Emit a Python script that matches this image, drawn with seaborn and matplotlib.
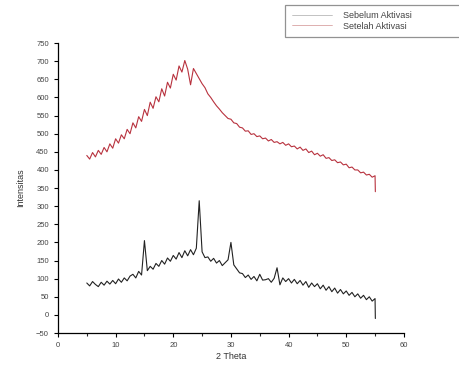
import numpy as np
import pandas as pd
import matplotlib
matplotlib.use("Agg")
import matplotlib.pyplot as plt
import seaborn as sns
from matplotlib.lines import Line2D

# Data
theta = [5.0, 5.5, 6.0, 6.5, 7.0, 7.5, 8.0, 8.5, 9.0, 9.5,
         10.0, 10.5, 11.0, 11.5, 12.0, 12.5, 13.0, 13.5, 14.0, 14.5,
         15.0, 15.5, 16.0, 16.5, 17.0, 17.5, 18.0, 18.5, 19.0, 19.5,
         20.0, 20.5, 21.0, 21.5, 22.0, 22.5, 23.0, 23.5, 24.0, 24.5,
         25.0, 25.5, 26.0, 26.5, 27.0, 27.5, 28.0, 28.5, 29.0, 29.5,
         30.0, 30.5, 31.0, 31.5, 32.0, 32.5, 33.0, 33.5, 34.0, 34.5,
         35.0, 35.5, 36.0, 36.5, 37.0, 37.5, 38.0, 38.5, 39.0, 39.5,
         40.0, 40.5, 41.0, 41.5, 42.0, 42.5, 43.0, 43.5, 44.0, 44.5,
         45.0, 45.5, 46.0, 46.5, 47.0, 47.5, 48.0, 48.5, 49.0, 49.5,
         50.0, 50.5, 51.0, 51.5, 52.0, 52.5, 53.0, 53.5, 54.0, 54.5,
         55.0, 55.05]

sebelum = [88, 80, 92, 84, 78, 90, 82, 93, 85, 95,
           86, 99, 90, 102, 94, 107, 112, 102, 120, 110,
           205, 122, 134, 126, 142, 134, 150, 140, 157, 148,
           164, 154, 172, 158, 177, 163, 180, 166, 184, 315,
           174, 158, 160, 148, 156, 143, 150, 136, 144, 152,
           200, 138, 127, 116, 114, 103, 110, 98, 106, 94,
           112, 96, 97, 100, 90, 101, 130, 83, 102, 92,
           100, 88, 98, 86, 95, 82, 92, 76, 88, 78,
           86, 72, 82, 68, 78, 64, 74, 60, 70, 58,
           66, 54, 62, 50, 58, 46, 54, 42, 50, 38,
           45, -10]

setelah = [440, 430, 448, 436, 454, 443, 462, 450, 472, 460,
           486, 474, 497, 486, 512, 500, 530, 516, 547, 534,
           567, 550, 587, 570, 602, 588, 624, 604, 642, 626,
           664, 648, 687, 670, 702, 678, 635, 680, 666, 652,
           638, 627, 610, 600, 588, 577, 568, 558, 550, 542,
           540, 530, 528, 518, 516, 507, 508, 498, 500, 492,
           494, 486, 488, 480, 484, 476, 478, 472, 476, 468,
           472, 464, 466, 458, 463, 454, 458, 448, 452, 442,
           446, 438, 442, 432, 434, 426, 428, 420, 422, 414,
           416, 406, 408, 400, 400, 392, 394, 386, 388, 380,
           384, 340]

labels = ["Sebelum Aktivasi", "Setelah Aktivasi"]
x_ticks = [0, 10, 20, 30, 40, 50, 60]
y_ticks = list(range(-50, 751, 50))

sns.set_style("white")
plt.rcParams["font.family"] = ["Liberation Sans", "DejaVu Sans"]

fig = plt.figure(figsize=(4.6, 3.75), dpi=100)
ax = fig.add_axes([0.126, 0.112, 0.752, 0.773])

df = pd.DataFrame({
    "theta": theta * 2,
    "intensity": sebelum + setelah,
    "series": [labels[0]] * len(theta) + [labels[1]] * len(theta),
})
sns.lineplot(data=df, x="theta", y="intensity", hue="series",
             palette={labels[0]: "#222222", labels[1]: "#b8323e"},
             linewidth=0.8, sort=False, estimator=None, ax=ax, legend=False)

ax.set_xlim(0, 60)
ax.set_ylim(-50, 750)
ax.set_xticks(x_ticks)
ax.set_yticks(y_ticks)
ax.set_xticks(range(5, 60, 10), minor=True)
ax.tick_params(axis="both", which="major", direction="out", length=3,
               width=0.8, labelsize=5.5, labelcolor="#444444", color="black",
               bottom=True, left=True)
ax.tick_params(axis="x", which="minor", direction="out", length=2,
               width=0.8, bottom=True)
for s in ["top", "right"]:
    ax.spines[s].set_visible(False)
for s in ["left", "bottom"]:
    ax.spines[s].set_color("black")
    ax.spines[s].set_linewidth(0.9)

ax.set_xlabel("2 Theta", fontsize=6.5, color="#333333", labelpad=2)
ax.set_ylabel("Intensitas", fontsize=6.5, color="#333333", labelpad=8)

handles = [Line2D([], [], color="#aaaaaa", lw=0.5),
           Line2D([], [], color="#d09090", lw=0.5)]
leg = fig.legend(handles, labels, loc="upper left",
                 bbox_to_anchor=(0.62, 0.987, 0.42, 0), mode="expand",
                 fontsize=6.5, handlelength=4.5, handletextpad=1.2,
                 frameon=True, fancybox=False, borderpad=0.7,
                 labelspacing=0.15, borderaxespad=0)
leg.get_frame().set_edgecolor("#777777")
leg.get_frame().set_linewidth(0.9)
for t in leg.get_texts():
    t.set_color("#444444")

fig.savefig("out.png", dpi=100)
